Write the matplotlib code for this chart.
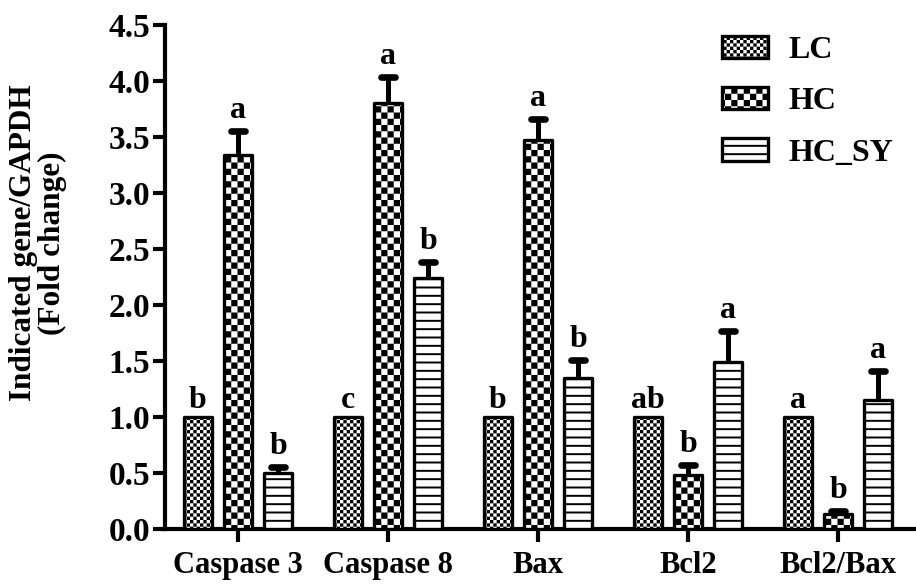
import numpy as np
import matplotlib
matplotlib.use("Agg")
import matplotlib.pyplot as plt
import matplotlib.hatch as mhatch
from matplotlib.path import Path

# ---------------- data ----------------
categories = ["Caspase 3", "Caspase 8", "Bax", "Bcl2", "Bcl2/Bax"]
groups = ["LC", "HC", "HC_SY"]
lc_vals = [1.0, 1.0, 1.0, 1.0, 1.0]
hc_vals = [3.34, 3.80, 3.47, 0.48, 0.13]
hcsy_vals = [0.50, 2.24, 1.35, 1.49, 1.15]
lc_err = [0.0, 0.0, 0.0, 0.0, 0.0]
hc_err = [0.21, 0.24, 0.19, 0.09, 0.03]
hcsy_err = [0.05, 0.14, 0.16, 0.28, 0.26]
lc_letters = ["b", "c", "b", "ab", "a"]
hc_letters = ["a", "a", "a", "b", "b"]
hcsy_letters = ["b", "b", "b", "a", "a"]
yticks = [0.0, 0.5, 1.0, 1.5, 2.0, 2.5, 3.0, 3.5, 4.0, 4.5]
ylabel = "Indicated gene/GAPDH\n(Fold change)"

# ---------------- custom checker hatch ----------------
HATCH_LW_PT = 1.4
DPI = 100
plt.rcParams["hatch.linewidth"] = HATCH_LW_PT


class Checker(mhatch.HatchPatternBase):
    def __init__(self, hatch, density):
        if "o" in hatch:
            self.n = 30
        elif "O" in hatch:
            self.n = 16
        else:
            self.n = 0
        self.num_vertices = (self.n * self.n // 2) * 5

    def set_vertices_and_codes(self, vertices, codes):
        n = self.n
        s = 1.0 / n
        m = (HATCH_LW_PT * DPI / 72.0 / 2.0) / DPI
        k = 0
        for i in range(n):
            for j in range(n):
                if (i + j) % 2 == 0:
                    x0, y0 = j * s + m, i * s + m
                    x1, y1 = (j + 1) * s - m, (i + 1) * s - m
                    vertices[k:k + 5] = [[x0, y0], [x1, y0], [x1, y1], [x0, y1], [x0, y0]]
                    codes[k:k + 5] = [Path.MOVETO, Path.LINETO, Path.LINETO,
                                      Path.LINETO, Path.CLOSEPOLY]
                    k += 5


mhatch._hatch_types = [t for t in mhatch._hatch_types
                       if t not in (mhatch.SmallCircles, mhatch.LargeCircles)] + [Checker]

# ---------------- figure ----------------
plt.rcParams["font.family"] = ["Liberation Serif", "DejaVu Serif"]
plt.rcParams["font.weight"] = "bold"

fig = plt.figure(figsize=(9.16, 5.85), dpi=DPI)
ax = fig.add_axes([165 / 916, 1 - 529 / 585, 1 - 165 / 916, (529 - 25) / 585])

x = np.arange(len(categories))
offset = 0.267
width = 0.187
edge_lw = 2.4

series = [
    (lc_vals, lc_err, lc_letters, "o", -offset),
    (hc_vals, hc_err, hc_letters, "O", 0.0),
    (hcsy_vals, hcsy_err, hcsy_letters, "--", offset),
]

handles = []
for (vals, errs, letters, hatch, off), name in zip(series, groups):
    bars = ax.bar(x + off, vals, width, facecolor="white", edgecolor="black",
                  linewidth=edge_lw, hatch=hatch, joinstyle="round", zorder=3,
                  label=name)
    handles.append(bars)
    vals = np.array(vals)
    errs = np.array(errs)
    has = errs > 0
    if has.any():
        ax.errorbar(x[has] + off, vals[has], yerr=[np.zeros(has.sum()), errs[has]],
                    fmt="none", ecolor="black", elinewidth=3.6, capsize=0, zorder=2)
        ax.hlines(vals[has] + errs[has], x[has] + off - 0.045, x[has] + off + 0.045,
                  colors="black", linewidth=4.8, capstyle="round", zorder=2)
    for xi, v, e, lt in zip(x + off, vals, errs, letters):
        top = v + e + (0.035 if e > 0 else 0.0)
        ax.annotate(lt, (xi, top), xytext=(0, 1.5), textcoords="offset points",
                    ha="center", va="bottom", fontsize=23, fontweight="bold")

ax.set_xlim(-0.487, 4.52)
ax.set_ylim(0, 4.5)
ax.set_yticks(yticks)
ax.set_yticklabels([f"{t:.1f}" for t in yticks])
ax.set_xticks(x)
ax.set_xticklabels(categories)

for side in ("top", "right"):
    ax.spines[side].set_visible(False)
for side in ("left", "bottom"):
    ax.spines[side].set_linewidth(3.0)
    ax.spines[side].set_capstyle("projecting")

ax.tick_params(axis="y", direction="out", length=9, width=3.0, pad=1.5,
               labelsize=24)
ax.tick_params(axis="x", direction="out", length=9, width=3.0, pad=7,
               labelsize=22)
for lab in ax.get_xticklabels() + ax.get_yticklabels():
    lab.set_fontweight("bold")

fig.text(38 / 916, 1 - 243 / 585, ylabel, rotation=90, ha="center", va="center",
         fontsize=22.5, fontweight="bold", multialignment="center", linespacing=1.0)

ax.legend(handles=handles, labels=groups, loc="upper left",
          bbox_to_anchor=(722 / 916, 1 - 36 / 585), bbox_transform=fig.transFigure,
          frameon=False, borderpad=0, borderaxespad=0, handlelength=1.45,
          handleheight=0.7, handletextpad=0.62, labelspacing=0.68,
          prop={"size": 23, "weight": "bold"})

fig.savefig("out.png", dpi=DPI)
